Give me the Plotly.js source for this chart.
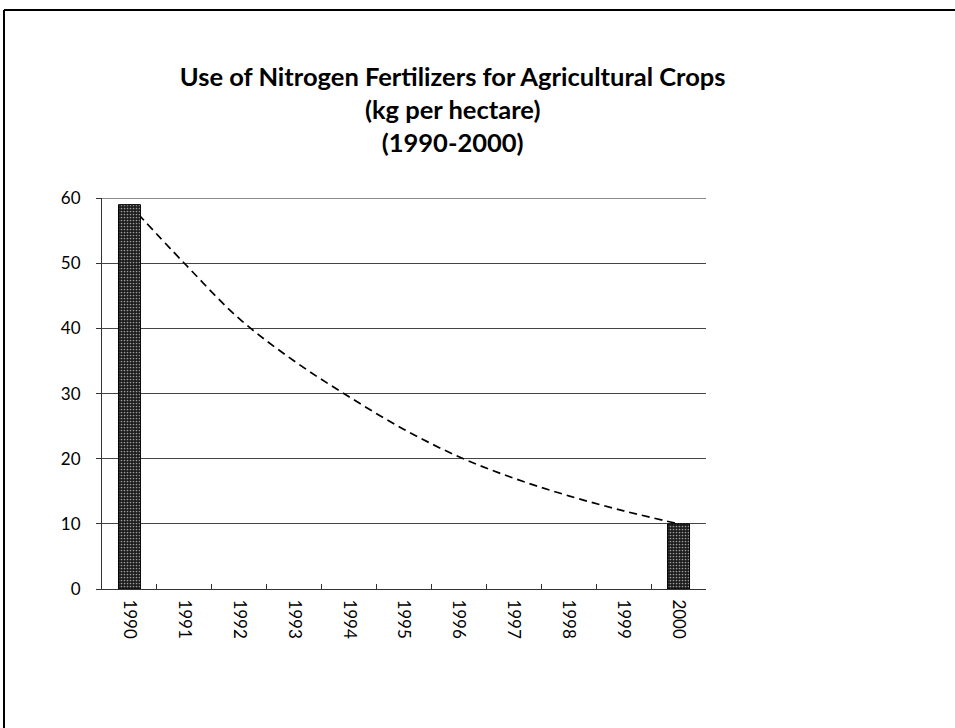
<!DOCTYPE html>
<html>
<head>
<meta charset="utf-8">
<script src="https://cdn.plot.ly/plotly-3.0.1.min.js"></script>
<style>
  html, body { margin: 0; padding: 0; background: #fff; }
  #chart { width: 955px; height: 728px; }
</style>
</head>
<body>
<div id="chart"></div>
<script>
// Data
const years = ['1990','1991','1992','1993','1994','1995','1996','1997','1998','1999','2000'];
const barValues = [59, null, null, null, null, null, null, null, null, null, 10];
const trendValues = [59, 50, 41.5, 35, 29.5, 24.5, 20.3, 17, 14.3, 12, 10];
const yTicks = [0, 10, 20, 30, 40, 50, 60];
const titleLines = ['Use of Nitrogen Fertilizers for Agricultural Crops', '(kg per hectare)', '(1990-2000)'];

const font = 'Lato, "Open Sans", "DejaVu Sans", sans-serif';

const traces = [
  {
    type: 'scatter',
    mode: 'lines',
    x: years,
    y: trendValues,
    xaxis: 'x',
    yaxis: 'y',
    line: { color: '#000', width: 1.7, dash: '8px,5px', shape: 'spline' },
    hoverinfo: 'skip',
    showlegend: false
  },
  {
    type: 'bar',
    x: years,
    y: barValues,
    xaxis: 'x2',
    yaxis: 'y',
    width: 0.4,
    marker: {
      color: '#1c1c1c',
      line: { color: '#000', width: 1 },
      pattern: { shape: '.', fgcolor: '#9a9a9a', bgcolor: '#1c1c1c', size: 3, solidity: 0.25 }
    },
    showlegend: false
  }
];

const layout = {
  width: 955,
  height: 728,
  autosize: false,
  paper_bgcolor: '#fff',
  plot_bgcolor: '#fff',
  margin: { l: 102, r: 249, t: 198, b: 139, pad: 0 },
  font: { family: font, color: '#000', size: 17 },
  title: {
    text: titleLines.join('<br>'),
    font: { family: font, size: 25.5, color: '#000', weight: 'bold' },
    xref: 'container',
    yref: 'container',
    x: 0.474,
    xanchor: 'center',
    y: 1 - 86 / 728,
    yanchor: 'top'
  },
  xaxis: {
    type: 'category',
    categoryarray: years,
    range: [-0.5, 10.5],
    showgrid: false,
    showline: true,
    linecolor: '#333',
    linewidth: 1,
    ticks: 'inside',
    tickson: 'boundaries',
    ticklen: 5,
    tickcolor: '#333',
    tickangle: 90,
    ticklabelstandoff: 6,
    tickfont: { family: font, size: 17, color: '#000' },
    zeroline: false,
    fixedrange: true
  },
  xaxis2: {
    type: 'category',
    categoryarray: years,
    range: [-0.5, 10.5],
    overlaying: 'x',
    side: 'bottom',
    visible: false,
    showgrid: false,
    showline: false,
    showticklabels: false,
    ticks: '',
    fixedrange: true
  },
  yaxis: {
    range: [0, 60.02],
    tickvals: yTicks,
    ticktext: yTicks.map(String),
    showgrid: true,
    gridcolor: '#444',
    gridwidth: 1,
    showline: true,
    linecolor: '#333',
    linewidth: 1,
    ticks: 'outside',
    ticklen: 5,
    tickcolor: '#333',
    ticklabelstandoff: 12,
    tickfont: { family: font, size: 17, color: '#000' },
    zeroline: false,
    fixedrange: true
  },
  bargap: 0.6
};

// Outer frame lines (top and left), positioned in paper fractions
const plotW = 955 - 102 - 249, plotH = 728 - 198 - 139;
const px = (p) => (p - 102) / plotW;
const py = (p) => (728 - 139 - p) / plotH;
const yMax = yTicks[yTicks.length - 1];
layout.shapes = [
  { type: 'line', xref: 'paper', yref: 'paper', x0: px(4), x1: px(955), y0: py(10), y1: py(10),
    line: { color: '#000', width: 2 } },
  { type: 'line', xref: 'paper', yref: 'paper', x0: px(4), x1: px(4), y0: py(10), y1: py(728),
    line: { color: '#000', width: 2 } },
  // top gridline at the axis maximum
  { type: 'line', xref: 'paper', yref: 'y', x0: 0, x1: 1, y0: yMax, y1: yMax,
    layer: 'below', line: { color: '#444', width: 1 } }
];

Plotly.newPlot('chart', traces, layout, { staticPlot: true, displayModeBar: false });
</script>
</body>
</html>
